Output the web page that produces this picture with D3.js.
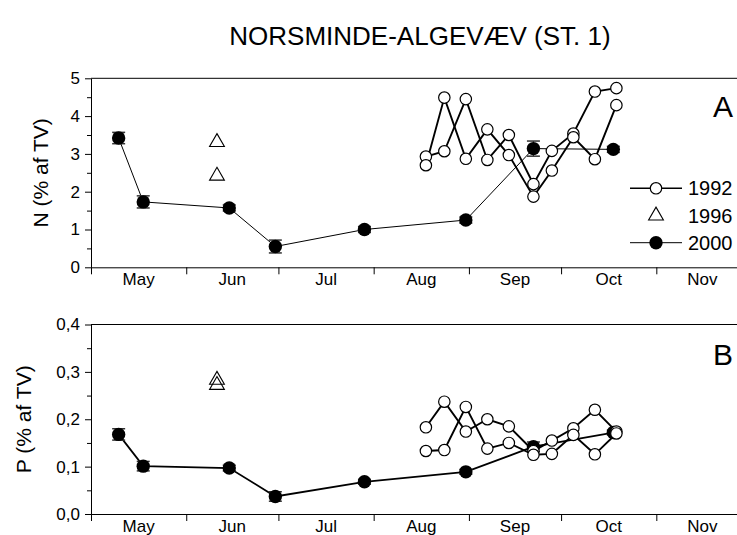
<!DOCTYPE html>
<html>
<head>
<meta charset="utf-8">
<script src="https://cdn.jsdelivr.net/npm/d3@7/dist/d3.min.js"></script>
<style>
  html, body { margin: 0; padding: 0; background: #fff; }
  svg { display: block; font-family: "Liberation Sans", Arial, sans-serif; }
</style>
</head>
<body>
<svg id="chart" width="737" height="535"></svg>
<script>
// ---------------- DATA ----------------
const chartTitle = "NORSMINDE-ALGEVÆV (ST. 1)";
const monthLabels = ["May", "Jun", "Jul", "Aug", "Sep", "Oct", "Nov"];
const monthStarts = ["05-01", "06-01", "07-01", "08-01", "09-01", "10-01", "11-01", "12-01"];
const seriesNames = ["1992", "1996", "2000"];

const nTicks = [0, 1, 2, 3, 4, 5];
const nMinorTicks = [0.5, 1.5, 2.5, 3.5, 4.5];
const pTicks = [0, 0.1, 0.2, 0.3, 0.4];
const pMinorTicks = [0.05, 0.15, 0.25, 0.35];

// 1992 (two sampling lines)
const dates1992 = ["08-18", "08-24", "08-31", "09-07", "09-14", "09-22", "09-28", "10-05", "10-12", "10-19"];
const N1992a = [2.93, 3.07, 4.45, 2.84, 3.50, 2.20, 3.08, 3.54, 4.65, 4.74];
const N1992b = [2.70, 4.49, 2.87, 3.65, 2.97, 1.87, 2.56, 3.44, 2.86, 4.29];
const P1992a = [0.183, 0.237, 0.174, 0.200, 0.185, 0.133, 0.155, 0.181, 0.220, 0.174];
const P1992b = [0.133, 0.135, 0.226, 0.138, 0.150, 0.125, 0.127, 0.167, 0.126, 0.170];

// 1996
const dates1996 = ["06-11", "06-11"];
const N1996 = [3.31, 2.42];
const P1996 = [0.283, 0.272];

// 2000 (mean ± error)
const dates2000 = ["05-10", "05-18", "06-15", "06-30", "07-29", "08-31", "09-22", "10-18"];
const N2000 = [3.42, 1.73, 1.57, 0.55, 1.00, 1.25, 3.14, 3.12];
const N2000err = [0.15, 0.16, 0.08, 0.17, 0.08, 0.08, 0.20, 0.08];
const P2000 = [0.168, 0.101, 0.097, 0.037, 0.068, 0.089, 0.142, 0.172];
const P2000err = [0.012, 0.010, 0.006, 0.010, 0.005, 0.005, 0.010, 0.005];

// ---------------- DRAW ----------------
const parse = d3.timeParse("%Y-%m-%d");
const toDate = s => parse("2001-" + s);

const svg = d3.select("#chart");
const x = d3.scaleTime()
  .domain([toDate("05-01"), toDate("12-01")])
  .range([91, 748.5]);

const fmtComma = d => d3.format(".1f")(d).replace(".", ",");

const panels = [
  { key: "N", yDomain: [0, 5], yRange: [267.3, 78.3], ticks: nTicks, minor: nMinorTicks, fmt: d3.format("d"),
    title: "N (% af TV)", titleX: 48, letter: "A", letterY: 117,
    a: N1992a, b: N1992b, t96: N1996, v00: N2000, e00: N2000err, w00: 1, labelY: 285 },
  { key: "P", yDomain: [0, 0.4], yRange: [514, 324.5], ticks: pTicks, minor: pMinorTicks, fmt: fmtComma,
    title: "P (% af TV)", titleX: 31, letter: "B", letterY: 365,
    a: P1992a, b: P1992b, t96: P1996, v00: P2000, e00: P2000err, w00: 1.8, labelY: 532 }
];

const tri = d3.symbol().type(d3.symbolTriangle).size(95);

panels.forEach(p => {
  const y = d3.scaleLinear().domain(p.yDomain).range(p.yRange);
  const g = svg.append("g");
  const top = p.yRange[1], bottom = p.yRange[0];

  // frame top line
  g.append("line").attr("x1", x.range()[0]).attr("x2", x.range()[1])
    .attr("y1", top).attr("y2", top).attr("stroke", "#000").attr("stroke-width", 1);

  // y axis
  const yAx = g.append("g").attr("transform", `translate(${x.range()[0]},0)`)
    .call(d3.axisLeft(y).tickValues(p.ticks).tickFormat(p.fmt).tickSize(6).tickSizeOuter(0).tickPadding(5));
  yAx.selectAll("text").attr("font-size", 17).attr("font-family", "Liberation Sans, Arial, sans-serif").attr("fill", "#000");
  g.append("g").attr("transform", `translate(${x.range()[0]},0)`)
    .call(d3.axisLeft(y).tickValues(p.minor).tickFormat("").tickSize(4).tickSizeOuter(0))
    .select(".domain").remove();

  // x axis
  const xAx = g.append("g").attr("transform", `translate(0,${bottom})`)
    .call(d3.axisBottom(x).tickValues(monthStarts.map(toDate)).tickFormat("").tickSize(7).tickSizeOuter(0));
  monthLabels.forEach((m, i) => {
    const mid = (x(toDate(monthStarts[i])) + x(toDate(monthStarts[i + 1]))) / 2;
    g.append("text").attr("x", mid).attr("y", p.labelY).attr("text-anchor", "middle")
      .attr("font-size", 17).text(m);
  });
  svg.selectAll(".domain").attr("stroke", "#000");

  // y title
  const cy = (top + bottom) / 2;
  g.append("text").attr("transform", `translate(${p.titleX},${cy}) rotate(-90)`)
    .attr("text-anchor", "middle").attr("font-size", 21).text(p.title);

  // panel letter
  g.append("text").attr("x", 713).attr("y", p.letterY).attr("font-size", 30).text(p.letter);

  // 2000 series
  const d00 = dates2000.map((d, i) => ({ x: x(toDate(d)), v: p.v00[i], e: p.e00[i] }));
  g.append("path").datum(d00)
    .attr("d", d3.line().x(d => d.x).y(d => y(d.v)))
    .attr("fill", "none").attr("stroke", "#000").attr("stroke-width", p.w00);
  d00.forEach(d => {
    const y1 = y(d.v + d.e), y2 = y(d.v - d.e);
    g.append("line").attr("x1", d.x).attr("x2", d.x).attr("y1", y1).attr("y2", y2).attr("stroke", "#333").attr("stroke-width", 1.2);
    [y1, y2].forEach(yy => g.append("line").attr("x1", d.x - 6.5).attr("x2", d.x + 6.5)
      .attr("y1", yy).attr("y2", yy).attr("stroke", "#333").attr("stroke-width", 1.5));
  });
  g.selectAll(".f00").data(d00).enter().append("circle")
    .attr("cx", d => d.x).attr("cy", d => y(d.v)).attr("r", 6.7).attr("fill", "#000");

  // 1996 triangles
  dates1996.forEach((d, i) => {
    g.append("path").attr("d", tri)
      .attr("transform", `translate(${x(toDate(d))},${y(p.t96[i])})`)
      .attr("fill", "none").attr("stroke", "#000").attr("stroke-width", 1.1);
  });

  // 1992 lines
  [p.a, p.b].forEach(vals => {
    const pts = dates1992.map((d, i) => [x(toDate(d)), y(vals[i])]);
    g.append("path").datum(pts).attr("d", d3.line())
      .attr("fill", "none").attr("stroke", "#000").attr("stroke-width", 1.9);
  });
  [p.a, p.b].forEach(vals => {
    dates1992.forEach((d, i) => {
      g.append("circle").attr("cx", x(toDate(d))).attr("cy", y(vals[i])).attr("r", 5.7)
        .attr("fill", "#fff").attr("stroke", "#000").attr("stroke-width", 1.2);
    });
  });
});

// title
svg.append("text").attr("x", 420).attr("y", 45).attr("text-anchor", "middle")
  .attr("font-size", 26).text(chartTitle);

// legend
const lg = svg.append("g");
const legRows = [188.3, 215.7, 242.7];
// 1992
lg.append("line").attr("x1", 630).attr("x2", 682).attr("y1", legRows[0]).attr("y2", legRows[0]).attr("stroke", "#000").attr("stroke-width", 1.6);
lg.append("circle").attr("cx", 656).attr("cy", legRows[0]).attr("r", 5.7).attr("fill", "#fff").attr("stroke", "#000").attr("stroke-width", 1.2);
// 1996
lg.append("path").attr("d", tri).attr("transform", `translate(656,${legRows[1]})`).attr("fill", "none").attr("stroke", "#000").attr("stroke-width", 1.1);
// 2000
lg.append("line").attr("x1", 630).attr("x2", 682).attr("y1", legRows[2]).attr("y2", legRows[2]).attr("stroke", "#000").attr("stroke-width", 1);
lg.append("circle").attr("cx", 656).attr("cy", legRows[2]).attr("r", 6.7).attr("fill", "#000");
seriesNames.forEach((s, i) => {
  lg.append("text").attr("x", 688).attr("y", legRows[i] + 7).attr("font-size", 20).text(s);
});
</script>
</body>
</html>
